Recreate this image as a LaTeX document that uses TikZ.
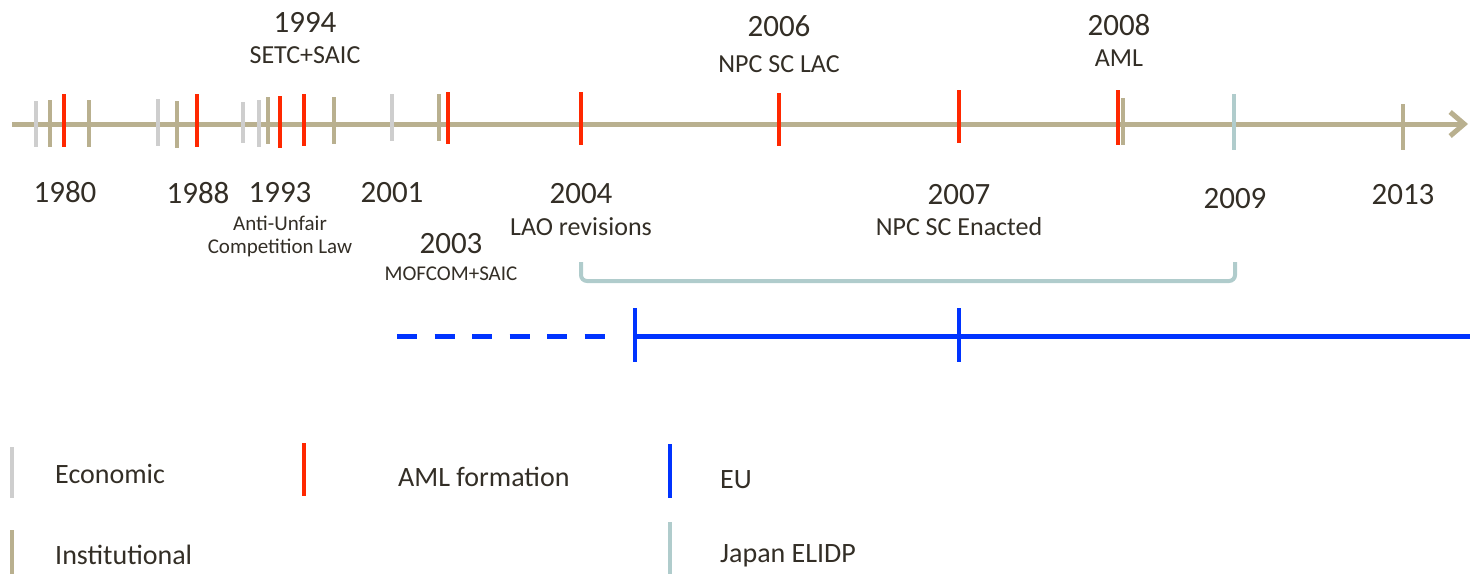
\documentclass[tikz,border=0pt]{standalone}
\usepackage{fontspec}
\setmainfont{Carlito}
\usepackage{xcolor}
\usetikzlibrary{arrows.meta,calc}

\definecolor{insttan}{RGB}{185,176,143}
\definecolor{econgray}{RGB}{206,206,206}
\definecolor{amlred}{RGB}{255,40,0}
\definecolor{eublue}{RGB}{0,51,255}
\definecolor{jpteal}{RGB}{176,204,204}
\definecolor{ink}{RGB}{51,46,38}

\begin{document}
\begin{tikzpicture}[
    x=1pt, y=-1pt,
    every node/.style={inner sep=0pt, text=ink},
    tickmark/.style={line width=4.5pt},
    econ/.style={tickmark, draw=econgray},
    inst/.style={tickmark, draw=insttan},
    aml/.style={tickmark, draw=amlred},
    japan/.style={tickmark, draw=jpteal},
    eu/.style={tickmark, draw=eublue},
    yearlbl/.style={anchor=base, font=\fontsize{31}{31}\selectfont},
    eventlbl/.style={anchor=base, font=\fontsize{26}{26}\selectfont},
    notelbl/.style={anchor=base, font=\fontsize{21}{21}\selectfont},
    legendlbl/.style={anchor=base west, font=\fontsize{28}{28}\selectfont},
    timeaxis/.style={draw=insttan, line width=5pt,
        -{Straight Barb[length=14pt, width=24pt]}},
    eulink/.style={draw=eublue, line width=5pt},
    jpspan/.style={draw=jpteal, line width=4pt, rounded corners=6pt}
]
\useasboundingbox (0,0) rectangle (1470,574);

% --- Time axis ---
\coordinate (axisL) at (12,124);
\coordinate (axisR) at (1468,124);
\draw[timeaxis] (axisL) -- (axisR);

% --- Economic ticks ---
\draw[econ] (36,101) -- (36,147);
\draw[econ] (158,99) -- (158,146);
\draw[econ] (243,102) -- (243,143);
\draw[econ] (259,100) -- (259,147);
\draw[econ] (392,94) -- (392,141);

% --- Institutional ticks ---
\draw[inst] (50,100) -- (50,147);
\draw[inst] (89,100) -- (89,147);
\draw[inst] (177,101) -- (177,148);
\draw[inst] (268,97) -- (268,144);
\draw[inst] (334,97) -- (334,144);
\draw[inst] (439,94) -- (439,141);
\draw[inst] (1123,98) -- (1123,145);
\draw[inst] (1403,104) -- (1403,150);

% --- AML formation ticks ---
\draw[aml] (64,94) -- (64,147);
\draw[aml] (197,94) -- (197,147);
\draw[aml] (280,96) -- (280,148);
\draw[aml] (304,94) -- (304,146);
\draw[aml] (448,92) -- (448,144);
\draw[aml] (581,92) -- (581,145);
\draw[aml] (779,93) -- (779,146);
\draw[aml] (959,90) -- (959,143);
\draw[aml] (1118,90) -- (1118,145);

% --- Japan tick ---
\draw[japan] (1234,94) -- (1234,150);

% --- Labels above the axis ---
\node[yearlbl] (y1994) at (305,32) {1994};
\node[eventlbl] (setc) at (305,63) {SETC+SAIC};
\node[yearlbl] (y2006) at (779,36) {2006};
\node[eventlbl] (lac) at (779,72) {NPC SC LAC};
\node[yearlbl] (y2008) at (1119,35) {2008};
\node[eventlbl] (aml) at (1119,66) {AML};

% --- Labels below the axis ---
\node[yearlbl] (y1980) at (65,202) {1980};
\node[yearlbl] (y1988) at (198,203) {1988};
\node[yearlbl] (y1993) at (280,202) {1993};
\node[notelbl] (auc1) at (280,230) {Anti-Unfair};
\node[notelbl] (auc2) at (280,253) {Competition Law};
\node[yearlbl] (y2001) at (392,202) {2001};
\node[yearlbl] (y2003) at (451,253) {2003};
\node[notelbl] (mofcom) at (451,280) {MOFCOM+SAIC};
\node[yearlbl] (y2004) at (581,203) {2004};
\node[eventlbl] (lao) at (581,235) {LAO revisions};
\node[yearlbl] (y2007) at (959,204) {2007};
\node[eventlbl] (enact) at (959,235) {NPC SC Enacted};
\node[yearlbl] (y2009) at (1235,208) {2009};
\node[yearlbl] (y2013) at (1403,204) {2013};

% --- Japan ELIDP span ---
\coordinate (jpL) at (581,262);
\coordinate (jpR) at (1235,262);
\draw[jpspan] (jpL) |- ($(jpR)+(0,19)$) -- (jpR);

% --- EU line ---
\coordinate (euA) at (397,336);
\coordinate (euB) at (605,336);
\coordinate (euC) at (635,336);
\coordinate (euD) at (959,336);
\coordinate (euE) at (1470,336);
\draw[eulink, dash pattern=on 20pt off 17.5pt] (euA) -- (euB);
\draw[eulink] (euC) -- (euE);
\draw[eu] (635,308) -- (635,362);
\draw[eu] (959,308) -- (959,362);

% --- Legend ---
\draw[econ] (12,447) -- (12,498);
\node[legendlbl] (lgecon) at (55,483) {Economic};
\draw[aml] (304,443) -- (304,496);
\node[legendlbl] (lgaml) at (398,486) {AML formation};
\draw[eu] (670,444) -- (670,498);
\node[legendlbl] (lgeu) at (720,488) {EU};
\draw[inst] (12,530) -- (12,574);
\node[legendlbl] (lginst) at (55,564) {Institutional};
\draw[japan] (670,522) -- (670,574);
\node[legendlbl] (lgjp) at (720,562) {Japan ELIDP};

\end{tikzpicture}
\end{document}
